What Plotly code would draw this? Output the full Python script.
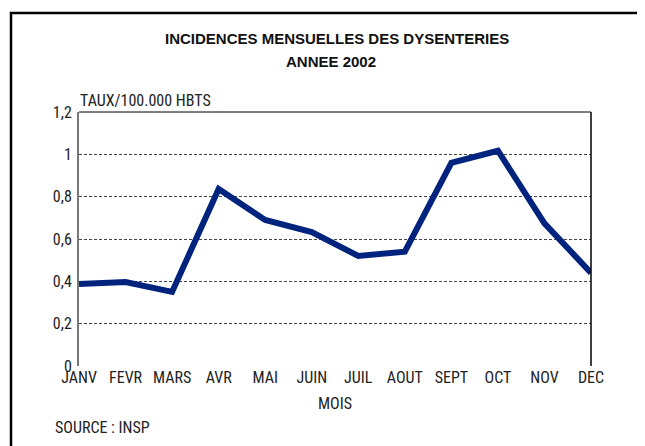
import plotly.graph_objects as go

months = ["JANV", "FEVR", "MARS", "AVR", "MAI", "JUIN", "JUIL", "AOUT", "SEPT", "OCT", "NOV", "DEC"]
rates = [0.387, 0.397, 0.35, 0.836, 0.69, 0.633, 0.52, 0.54, 0.96, 1.017, 0.674, 0.44]
y_ticks = [0, 0.2, 0.4, 0.6, 0.8, 1, 1.2]
y_tick_labels = ["0", "0,2", "0,4", "0,6", "0,8", "1", "1,2"]

# page body has an 8px margin; build the figure in reference coords minus that offset
OFF = 8
W, H = 645 - OFF, 446 - OFF
L, T = 79 - OFF, 112 - OFF
pw, ph = 512, 254
R, B = W - L - pw, H - T - ph


def px(x):
    return (x - OFF - L) / pw


def py(y):
    return 1 - (y - OFF - T) / ph


narrow = "Roboto Condensed, Liberation Sans Narrow, sans-serif"
bold = "Liberation Sans, Arial, sans-serif"
txt = "#222"

fig = go.Figure()
fig.add_trace(go.Scatter(x=months, y=rates, mode="lines",
                         line=dict(color="#00237e", width=6), hoverinfo="skip"))

fig.update_layout(
    width=W, height=H,
    margin=dict(l=L, r=R, t=T, b=B, pad=0),
    paper_bgcolor="white", plot_bgcolor="white",
    showlegend=False,
    font=dict(family=narrow, color=txt, size=16),
    xaxis=dict(type="category", range=[0, 11], showgrid=False, zeroline=False,
               showline=False, ticks="", automargin=False,
               tickfont=dict(size=16, family=narrow, color=txt),
               ticklabelstandoff=0),
    yaxis=dict(range=[0, 1.2], tickvals=y_ticks, ticktext=y_tick_labels,
               showgrid=True, gridcolor="#444", griddash="3px,2px", gridwidth=1,
               zeroline=False, showline=True, linecolor="#777", linewidth=2,
               ticks="", automargin=False,
               tickfont=dict(size=16, family=narrow, color=txt),
               ticklabelstandoff=2),
)

# top and right frame of plot area
fig.add_shape(type="line", xref="paper", yref="paper", x0=0, x1=1, y0=1, y1=1,
              line=dict(color="black", width=1))
fig.add_shape(type="line", xref="paper", yref="paper", x0=1, x1=1, y0=0, y1=1,
              line=dict(color="black", width=1.5))
# outer border
fig.add_shape(type="rect", xref="paper", yref="paper",
              x0=px(11), x1=px(700), y0=py(500), y1=py(13),
              line=dict(color="black", width=2.5), layer="below")

fig.add_annotation(text="<b>INCIDENCES MENSUELLES DES DYSENTERIES</b>", xref="paper", yref="paper",
                   x=px(337), y=py(38), xanchor="center", yanchor="middle", showarrow=False,
                   font=dict(family=bold, size=15, color="#111"))
fig.add_annotation(text="<b>ANNEE 2002</b>", xref="paper", yref="paper",
                   x=px(331), y=py(61.5), xanchor="center", yanchor="middle", showarrow=False,
                   font=dict(family=bold, size=15, color="#111"))
fig.add_annotation(text="TAUX/100.000 HBTS", xref="paper", yref="paper",
                   x=px(78), y=py(100), xanchor="left", yanchor="middle", showarrow=False,
                   font=dict(family=narrow, size=16, color=txt))
fig.add_annotation(text="MOIS", xref="paper", yref="paper",
                   x=px(335), y=py(403), xanchor="center", yanchor="middle", showarrow=False,
                   font=dict(family=narrow, size=16, color=txt))
fig.add_annotation(text="SOURCE : INSP", xref="paper", yref="paper",
                   x=px(53), y=py(427), xanchor="left", yanchor="middle", showarrow=False,
                   font=dict(family=narrow, size=16, color=txt))

fig.write_html("out.html")
